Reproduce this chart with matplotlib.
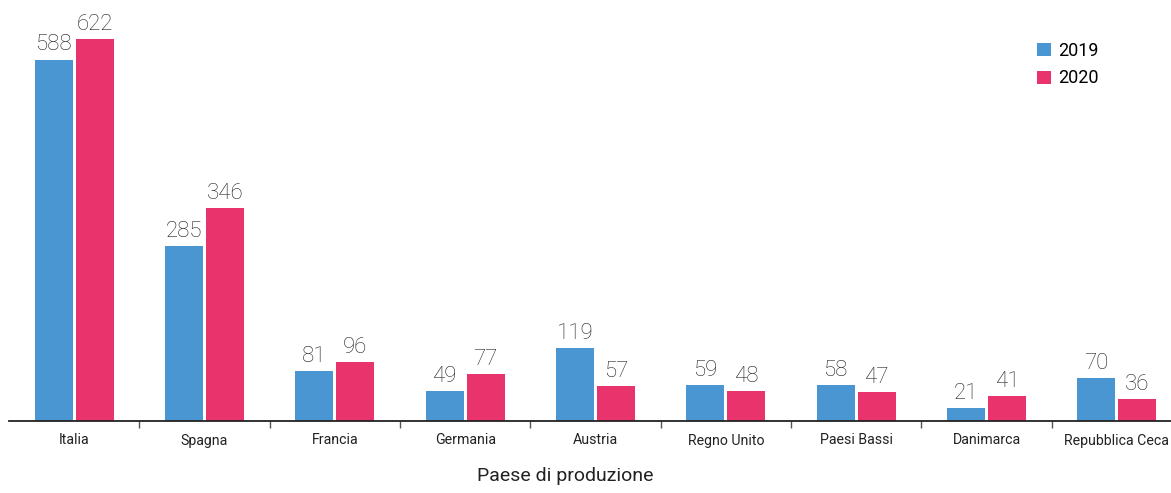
import numpy as np
import matplotlib
matplotlib.use("Agg")
import matplotlib.pyplot as plt

plt.rcParams['font.family'] = ['Roboto', 'DejaVu Sans']

paesi = ['Italia', 'Spagna', 'Francia', 'Germania', 'Austria',
         'Regno Unito', 'Paesi Bassi', 'Danimarca', 'Repubblica Ceca']
v2019 = [588, 285, 81, 49, 119, 59, 58, 21, 70]
v2020 = [622, 346, 96, 77, 57, 48, 47, 41, 36]

blu = '#4A96D2'
rosso = '#E8336D'

fig = plt.figure(figsize=(11.71, 4.93), dpi=100)
ax = fig.add_axes([9 / 1171, 72 / 493, 1173 / 1171, 421 / 493])

x = np.arange(len(paesi))
w = 0.29
off = 0.157
b1 = ax.bar(x - off, v2019, w, color=blu, label='2019')
b2 = ax.bar(x + off, v2020, w, color=rosso, label='2020')

# etichette sopra le barre
for bars, vals in ((b1, v2019), (b2, v2020)):
    for b, v in zip(bars, vals):
        ax.annotate(str(v), (b.get_x() + b.get_width() / 2, v),
                    xytext=(0, 3), textcoords='offset points',
                    ha='center', va='bottom', fontsize=16,
                    fontweight='light', color='#222222')

ax.set_xlim(-0.5, 8.5)
ax.set_ylim(0, 685)
ax.set_xticks(x)
ax.set_xticklabels(paesi, fontsize=10.2, color='#222222')
ax.set_xticks(np.arange(0.5, 8.5, 1), minor=True)
ax.tick_params(axis='x', which='major', length=0, pad=9)
ax.tick_params(axis='x', which='minor', length=5, width=1, color='#555555')
ax.set_yticks([])
for s in ['top', 'right', 'left']:
    ax.spines[s].set_visible(False)
ax.spines['bottom'].set_linewidth(1.3)
ax.spines['bottom'].set_color('#222222')

fig.text(565 / 1171, 8 / 493, 'Paese di produzione', ha='center',
         va='bottom', fontsize=14, color='#222222')

leg = ax.legend(loc='upper right', bbox_to_anchor=(1106 / 1173, 0.94),
                frameon=False, fontsize=13, handlelength=0.75,
                handleheight=0.75, handletextpad=0.4, labelspacing=0.55)

fig.savefig('out.png', dpi=100)
